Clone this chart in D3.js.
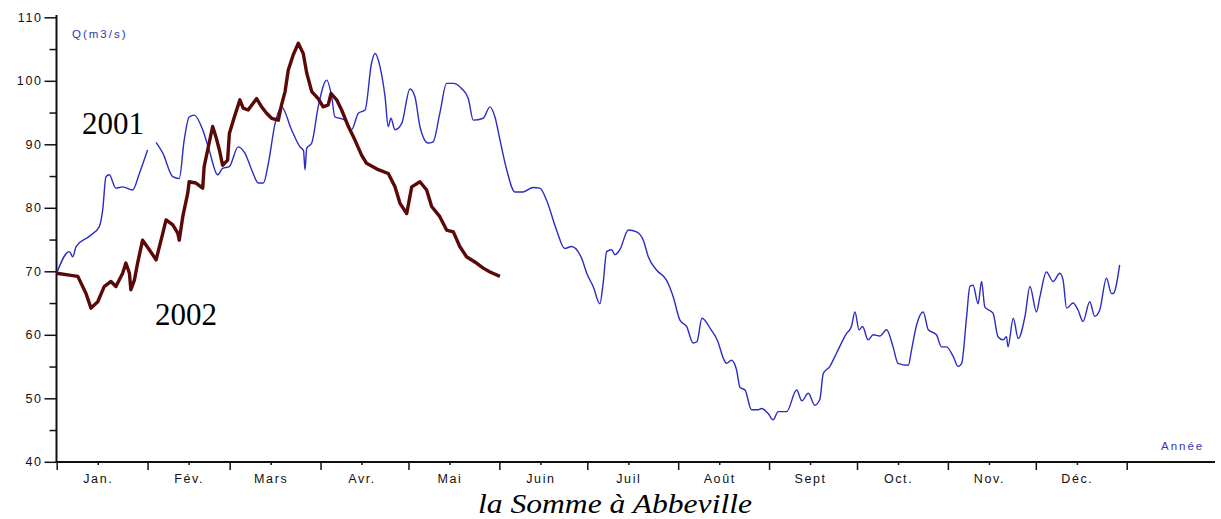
<!DOCTYPE html>
<html>
<head>
<meta charset="utf-8">
<script src="https://cdn.jsdelivr.net/npm/d3@7"></script>
<style>
  body { margin: 0; background: #fff; }
  svg { display: block; }
  .tick text { font-family: "Liberation Sans", Arial, sans-serif; font-size: 12.5px; letter-spacing: 1.6px; fill: #111; }
</style>
</head>
<body>
<svg id="chart"></svg>
<script>
let w = 1221;
let h = 519;

// month tick labels and month boundaries (day of year)
let months = ["Jan.", "Fév.", "Mars", "Avr.", "Mai", "Juin", "Juil", "Août", "Sept", "Oct.", "Nov.", "Déc."];
let monthStarts = [0, 31, 59, 90, 120, 151, 181, 212, 243, 273, 304, 334, 365];
let yTicks = [40, 50, 60, 70, 80, 90, 100, 110];
let yMinor = [45, 55, 65, 75, 85, 95, 105];

// 2001 : day of year / flow (m3/s) ; null = missing data
let days2001 = [0, 4.3, 5.5, 6.6, 11.1, 14.5, 15.7, 16.8, 17.9, 20.2, 22.5, 25.9, 28.2, 31.0, 32.5,
  33.9, 36.2, 39.6, 41.8, 43.5, 45.2, 46.9, 49.8, 52.0, 54.9, 56.6, 58.9, 61.9, 64.2, 66.5, 68.8,
  70.5, 72.2, 74.5, 76.7, 80.1, 83.0, 84.2, 84.7, 85.3, 87.0, 89.2, 92.1, 93.8, 94.9, 96.6, 98.3,
  100.6, 102.9, 105.2, 107.4, 108.6, 110.3, 112.0, 113.1, 114.0, 115.4, 117.7, 120.5, 122.2, 123.9,
  126.7, 128.4, 130.7, 133.0, 135.3, 138.1, 140.4, 142.1, 145.5, 147.8, 149.5, 151.2, 153.5, 156.3,
  159.1, 162.5, 164.8, 167.1, 170.5, 173.3, 175.6, 179.1, 180.8, 183.0, 185.3, 186.4, 187.6, 189.3,
  190.4, 192.1, 195.0, 197.8, 200.1, 201.8, 204.6, 208.0, 210.3, 212.6, 214.9, 217.1, 218.4, 220.1,
  223.2, 225.5, 227.4, 228.5, 230.2, 231.9, 233.1, 234.8, 237.0, 239.3, 240.4, 242.7, 244.4, 246.1,
  249.0, 252.4, 254.2, 256.4, 258.6, 260.3, 261.5, 263.7, 266.0, 269.4, 271.1, 272.3, 273.7, 274.9,
  276.8, 278.5, 280.8, 283.1, 285.3, 287.0, 290.5, 291.6, 293.3, 295.6, 297.3, 300.1, 301.8, 303.5,
  305.8, 307.5, 308.7, 310.4, 311.5, 312.6, 314.3, 315.5, 316.6, 319.4, 321.1, 322.8, 324.0, 324.5,
  326.3, 328.0, 330.3, 332.0, 334.2, 335.4, 337.6, 339.9, 342.2, 343.3, 344.5, 346.7, 348.4, 350.1,
  352.4, 354.1, 355.8, 358.1, 359.8, 360.4, 362.6];
let q2001 = [69.7, 73.1, 72.3, 73.9, 75.5, 77.0, 79.7, 84.9, 85.2, 83.1, 83.3, 82.8, 85.4, 89.1, null,
  90.3, 88.6, 84.9, 84.6, 90.7, 94.3, 94.6, 92.3, 89.1, 85.2, 86.2, 86.5, 89.6, 88.6, 86.0, 83.9,
  83.9, 87.0, 93.3, 95.9, 92.3, 89.6, 89.0, 86.0, 89.4, 90.2, 95.9, 100.1, 97.5, 94.3, 94.1, 93.8,
  92.3, 94.9, 95.4, 102.8, 104.3, 102.2, 97.5, 92.8, 94.1, 92.3, 93.3, 98.7, 97.5, 92.8,
  90.2, 90.4, 94.9, 99.6, 99.6, 98.8, 97.2, 93.8, 94.1, 95.9, 94.3, 90.7, 86.0, 82.5,
  82.5, 83.2, 83.1, 81.2, 76.5, 73.6, 73.9, 72.0, 69.7, 67.6, 64.9, 68.1, 73.1, 73.4,
  72.6, 73.4, 76.5, 76.2, 74.9, 72.3, 70.2, 68.6, 66.0, 62.3, 61.3, 58.7, 58.9, 62.6,
  60.8, 59.0, 56.3, 55.5, 56.0, 54.5, 51.7, 51.3, 48.2, 48.2, 48.4, 47.6, 46.6, 47.9,
  47.9, 51.3, 49.6, 50.8, 48.9, 49.8, 53.9, 55.0, 57.1, 60.2, 61.3, 63.6, 60.8, 61.3,
  59.2, 60.0, 59.8, 60.8, 58.1, 55.5, 55.2, 57.6, 61.5, 63.6, 60.8, 60.0, 58.1, 58.1,
  56.6, 55.0, 55.5, 62.9, 67.6, 67.8, 64.9, 68.4, 64.4, 63.4, 59.7, 59.2, 59.7, 58.1,
  62.6, 59.4, 62.9, 67.6, 63.6, 66.0, 69.9, 68.4, 69.7, 68.6, 64.2, 65.0, 63.9, 62.1,
  65.2, 62.9, 63.9, 68.9, 66.5, 66.5, 71.0];

// 2002 : Jan -> end of May
let days2002 = [0, 4.3, 7.2, 10.0, 11.7, 14.0, 16.2, 18.5, 20.2, 22.5, 23.6, 24.8, 25.3, 26.5, 27.6,
  29.3, 31.6, 33.9, 36.2, 37.3, 39.6, 41.3, 41.8, 43.0, 44.7, 45.2, 47.5, 49.8, 50.3, 51.5, 53.2,
  54.3, 55.5, 56.6, 58.3, 58.9, 60.6, 62.5, 63.6, 65.3, 68.2, 69.9, 71.6, 73.3, 75.6, 76.7, 77.9,
  79.0, 80.7, 82.4, 84.1, 85.3, 87.0, 89.2, 90.9, 92.6, 93.6, 95.5, 97.2, 99.5, 101.7, 104.0,
  105.7, 109.7, 113.1, 115.4, 117.1, 119.4, 121.1, 123.9, 126.2, 127.9, 130.7, 133.0, 135.3,
  137.5, 139.8, 143.2, 145.5, 147.8, 151.2];
let q2002 = [69.7, 69.4, 69.2, 66.5, 64.2, 65.2, 67.6, 68.4, 67.6, 69.7, 71.3, 69.7, 67.1, 68.6, 71.3,
  74.9, 73.4, 71.8, 76.0, 78.1, 77.3, 76.0, 74.9, 78.6, 82.3, 84.1, 83.9, 83.1, 86.5, 89.1, 92.8,
  91.2, 89.1, 86.7, 87.5, 91.7, 94.3, 97.0, 95.7, 95.4, 97.2, 95.9, 94.9, 94.1, 93.8, 96.2, 98.3,
  101.7, 104.1, 105.9, 104.3, 101.2, 98.3, 97.2, 95.9, 96.2, 98.0, 97.0, 95.4, 92.8, 90.7, 88.3,
  87.0, 86.0, 85.4, 83.3, 80.7, 79.1, 83.3, 84.1, 82.8, 80.2, 78.6, 76.5, 76.2,
  73.9, 72.3, 71.3, 70.5, 69.9, 69.2];

let svg = d3.select("#chart").attr("width", w).attr("height", h);

let xScale = d3.scaleLinear().domain([0, 365]).range([56.7, 1126.7]);
let yScale = d3.scaleLinear().domain([40, 110]).range([461.8, 17.3]);

// y axis
svg.append("g")
  .attr("transform", "translate(56.5,0)")
  .call(d3.axisLeft(yScale).tickValues(yMinor).tickSize(7).tickFormat(""))
  .call(g => g.select(".domain").remove())
  .selectAll("line").attr("stroke", "#111").attr("stroke-width", 1.5);
let yAx = svg.append("g")
  .attr("transform", "translate(56.5,0)")
  .call(d3.axisLeft(yScale).tickValues(yTicks).tickSize(12).tickSizeOuter(0).tickPadding(2));
yAx.select(".domain").attr("stroke", "#111").attr("stroke-width", 2)
  .attr("d", "M0," + (yScale(40) + 0.5) + "V15");
yAx.selectAll(".tick line").attr("stroke", "#111").attr("stroke-width", 1.5);

// x axis
let xAx = svg.append("g")
  .attr("transform", "translate(0,462)")
  .call(d3.axisBottom(xScale).tickValues(monthStarts).tickSize(8).tickFormat(""));
xAx.select(".domain").remove();
xAx.selectAll("line").attr("stroke", "#111").attr("stroke-width", 1.5);

let mids = monthStarts.slice(0, 12).map(d => d + 14);
let xLab = svg.append("g")
  .attr("transform", "translate(0,461)")
  .call(d3.axisBottom(xScale).tickValues(mids).tickSize(4).tickPadding(9)
    .tickFormat((d, i) => months[i]));
xLab.select(".domain").remove();
xLab.selectAll("line").attr("stroke", "#111").attr("stroke-width", 1.5);

svg.append("line")
  .attr("x1", 55.5).attr("x2", 1215)
  .attr("y1", 462).attr("y2", 462)
  .attr("stroke", "#111").attr("stroke-width", 2);

// lines
let line2001 = d3.line()
  .defined((d, i) => q2001[i] !== null)
  .x(d => xScale(d))
  .y((d, i) => yScale(q2001[i]))
  .curve(d3.curveMonotoneX);
svg.append("path")
  .attr("d", line2001(days2001))
  .attr("fill", "none")
  .attr("stroke", "#2c2cc4")
  .attr("stroke-width", 1.4);

let line2002 = d3.line()
  .x(d => xScale(d))
  .y((d, i) => yScale(q2002[i]));
svg.append("path")
  .attr("d", line2002(days2002))
  .attr("fill", "none")
  .attr("stroke", "#5a0808")
  .attr("stroke-width", 3.4)
  .attr("stroke-linejoin", "round");

// texts
svg.append("text")
  .attr("x", 72).attr("y", 37.5)
  .attr("font-family", "Liberation Sans, Arial, sans-serif")
  .attr("font-size", 11.5).attr("letter-spacing", "2px")
  .attr("fill", "#3434b4")
  .text("Q(m3/s)");
svg.append("text")
  .attr("x", 1161).attr("y", 449.5)
  .attr("font-family", "Liberation Sans, Arial, sans-serif")
  .attr("font-size", 11.5).attr("letter-spacing", "2px")
  .attr("fill", "#3434b4")
  .text("Année");
svg.append("text")
  .attr("x", 82).attr("y", 133.5)
  .attr("font-family", "Liberation Serif, Times New Roman, serif")
  .attr("font-size", 31)
  .text("2001");
svg.append("text")
  .attr("x", 155).attr("y", 325)
  .attr("font-family", "Liberation Serif, Times New Roman, serif")
  .attr("font-size", 31)
  .text("2002");
svg.append("text")
  .attr("x", 615).attr("y", 513)
  .attr("text-anchor", "middle")
  .attr("font-family", "Liberation Serif, Times New Roman, serif")
  .attr("font-style", "italic")
  .attr("font-size", 27)
  .attr("textLength", 274)
  .attr("lengthAdjust", "spacingAndGlyphs")
  .text("la Somme à Abbeville");
</script>
</body>
</html>
